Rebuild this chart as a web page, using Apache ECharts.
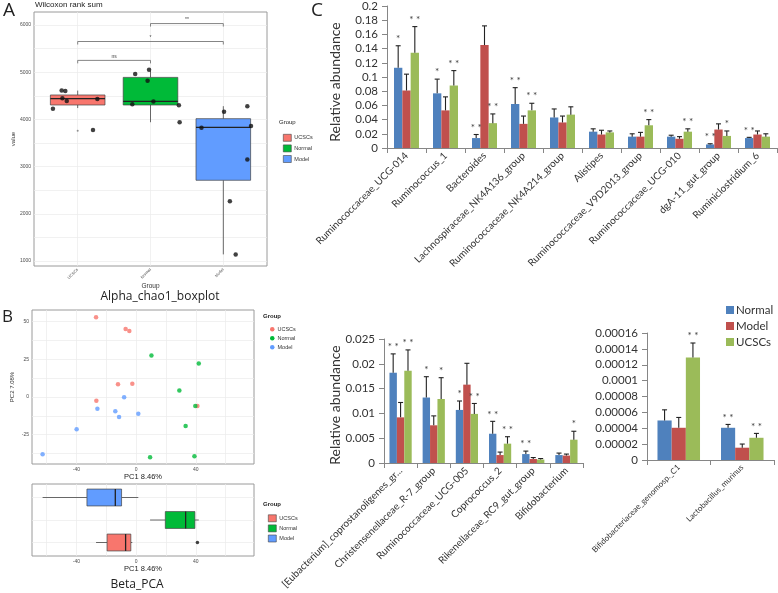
<!DOCTYPE html>
<html><head><meta charset="utf-8">
<script src="https://cdn.jsdelivr.net/npm/echarts@6/dist/echarts.min.js"></script>
<style>html,body{margin:0;padding:0;background:#fff}#c{width:778px;height:593px}</style>
</head><body><div id="c"></div>
<script>
// ---------------- DATA ----------------
const groups = ['UCSCs', 'Normal', 'Model'];
const ggColors = ['#F8766D', '#00BA38', '#619CFF'];

// Panel A: Alpha chao1 boxplot  [position, low, q1, median, q3, high]
const chaoBoxUCSCs = [1, 4240, 4305, 4440, 4517, 4610];
const chaoBoxNormal = [2, 3940, 4305, 4380, 4890, 5030];
const chaoBoxModel = [3, 1140, 2710, 3830, 4015, 4280];
const chaoPtsUCSCs = [[0.78, 4610], [0.83, 4600], [0.79, 4450], [0.85, 4390], [0.66, 4225], [1.27, 4430], [1.21, 3775]];
const chaoPtsNormal = [[1.79, 4960], [1.96, 4820], [1.98, 5050], [2.04, 4380], [1.75, 4320], [2.39, 4300], [2.40, 3940]];
const chaoPtsModel = [[3.01, 4160], [3.33, 4280], [2.70, 3825], [3.38, 3860], [3.33, 3150], [3.09, 2265], [3.17, 1140]];
const chaoOutliers = [[1, 3760]];
const chaoYTicks = [1000, 2000, 3000, 4000, 5000, 6000];
const chaoYGrid = [1000, 1500, 2000, 2500, 3000, 3500, 4000, 4500, 5000, 5500, 6000];
// significance brackets: [from, to, y]
const sigBrackets = [[1, 2, 5250], [1, 3, 5650], [2, 3, 6030]];
const sigBracketLabels = ['ns', '*', '**'];

// Panel B: PCA scatter [PC1, PC2]
const pcaUCSCs = [[-26.8, 52.9], [-7.0, 45.1], [-4.5, 43.8], [-12.1, 8.4], [-2.5, 8.8], [-26.6, -2.5], [41.1, -6.0]];
const pcaNormal = [[10.3, 27.6], [42.0, 22.3], [29.0, 4.4], [39.7, -6.0], [33.2, -19.2], [9.4, -40.0], [39.1, -39.3]];
const pcaModel = [[-8.0, -0.2], [-25.9, -7.7], [-13.9, -9.5], [-11.4, -13.3], [1.5, -11.1], [-39.8, -21.4], [-62.6, -38.0]];
const pcaXTicks = [-40, 0, 40];
const pcaXGrid = [-60, -40, -20, 0, 20, 40, 60];
const pcaYTicks = [-25, 0, 25, 50];
const pcaYGrid = [-37.5, -25, -12.5, 0, 12.5, 25, 37.5, 50];
// PC1 boxplot [position, low, q1, median, q3, high]
const pc1BoxUCSCs = [1, -26.8, -19.4, -7.0, -3.5, -2.5];
const pc1BoxNormal = [2, 9.4, 19.6, 33.2, 39.4, 42.0];
const pc1BoxModel = [3, -62.6, -32.9, -13.9, -9.7, 1.5];
const pc1Outliers = [[41.1, 1]];

// Panel C top
const topCats = ['Ruminococcaceae_UCG-014', 'Ruminococcus_1', 'Bacteroides', 'Lachnospiraceae_NK4A136_group',
  'Ruminococcaceae_NK4A214_group', 'Alistipes', 'Ruminococcaceae_V9D2013_group', 'Ruminococcaceae_UCG-010',
  'dgA-11_gut_group', 'Ruminiclostridium_6'];
const topNormal = [0.113, 0.077, 0.014, 0.062, 0.043, 0.023, 0.016, 0.016, 0.005, 0.014];
const topNormalErr = [0.031, 0.020, 0.005, 0.023, 0.012, 0.004, 0.004, 0.002, 0.001, 0.001];
const topModel = [0.081, 0.053, 0.145, 0.034, 0.036, 0.019, 0.016, 0.013, 0.026, 0.019];
const topModelErr = [0.023, 0.019, 0.027, 0.011, 0.009, 0.006, 0.006, 0.003, 0.008, 0.005];
const topUCSCs = [0.134, 0.088, 0.035, 0.053, 0.047, 0.022, 0.032, 0.023, 0.017, 0.016];
const topUCSCsErr = [0.037, 0.021, 0.013, 0.010, 0.011, 0.002, 0.008, 0.004, 0.007, 0.004];
const topNormalSig = ['*', '*', '**', '**', '', '', '', '', '**', '**'];
const topModelSig = ['', '', '', '', '', '', '', '', '', ''];
const topUCSCsSig = ['**', '**', '**', '**', '', '', '**', '**', '*', ''];

// Panel C bottom-left
const blCats = ['[Eubacterium]_coprostanoligenes_gr...', 'Christensenellaceae_R-7_group', 'Ruminococcaceae_UCG-005',
  'Coprococcus_2', 'Rikenellaceae_RC9_gut_group', 'Bifidobacterium'];
const blNormal = [0.0182, 0.0132, 0.0107, 0.0059, 0.0018, 0.0016];
const blNormalErr = [0.0038, 0.0042, 0.0018, 0.0025, 0.0006, 0.0004];
const blModel = [0.0092, 0.0076, 0.0158, 0.0016, 0.0008, 0.0015];
const blModelErr = [0.0030, 0.0019, 0.0043, 0.0006, 0.0003, 0.0003];
const blUCSCs = [0.0186, 0.0129, 0.0099, 0.0039, 0.0007, 0.0047];
const blUCSCsErr = [0.0042, 0.0043, 0.0021, 0.0014, 0.0002, 0.0017];
const blNormalSig = ['**', '*', '*', '**', '**', ''];
const blModelSig = ['', '', '', '', '', ''];
const blUCSCsSig = ['**', '*', '**', '**', '', '*'];

// Panel C bottom-right
const brCats = ['Bifidobacteriaceae_genomosp._C1', 'Lactobacillus_murinus'];
const brNormal = [0.0000498, 0.0000406];
const brNormalErr = [0.0000134, 0.0000042];
const brModel = [0.0000406, 0.0000155];
const brModelErr = [0.0000130, 0.0000046];
const brUCSCs = [0.000129, 0.000028];
const brUCSCsErr = [0.0000184, 0.0000055];
const brNormalSig = ['', '**'];
const brModelSig = ['', ''];
const brUCSCsSig = ['**', '**'];

// ---------------- STYLE ----------------
const xlColors = ['#4F81BD', '#C0504D', '#9BBB59'];
const xlNames = ['Normal', 'Model', 'UCSCs'];
const GG = 'Liberation Sans';
const XL = 'Lato';
const gridCol = '#EBEBEB';
const gg = {color: '#4D4D4D', fontFamily: GG};

function boxItem(horizontal) {
  return function (params, api) {
    const pos = api.value(0);
    const P = v => horizontal ? api.coord([v, pos]) : api.coord([pos, v]);
    const half = horizontal ? api.size([0, 0.375])[1] : api.size([0.375, 0])[0];
    const a = P(api.value(1)), q1 = P(api.value(2)), m = P(api.value(3)), q3 = P(api.value(4)), b = P(api.value(5));
    const stroke = '#444';
    const ch = [
      {type: 'line', shape: {x1: a[0], y1: a[1], x2: q1[0], y2: q1[1]}, style: {stroke, lineWidth: 0.8}},
      {type: 'line', shape: {x1: q3[0], y1: q3[1], x2: b[0], y2: b[1]}, style: {stroke, lineWidth: 0.8}}
    ];
    const rect = horizontal
      ? {x: q1[0], y: q1[1] - half, width: q3[0] - q1[0], height: 2 * half}
      : {x: q3[0] - half, y: q3[1], width: 2 * half, height: q1[1] - q3[1]};
    ch.push({type: 'rect', shape: rect, style: {fill: api.visual('color'), stroke, lineWidth: 0.7}});
    const ml = horizontal
      ? {x1: m[0], y1: m[1] - half, x2: m[0], y2: m[1] + half}
      : {x1: m[0] - half, y1: m[1], x2: m[0] + half, y2: m[1]};
    ch.push({type: 'line', shape: ml, style: {stroke: '#222', lineWidth: 1.3}});
    return {type: 'group', children: ch};
  };
}

function bracketItem(params, api) {
  const x1 = api.value(0), x2 = api.value(1), y = api.value(2);
  const p1 = api.coord([x1, y]), p2 = api.coord([x2, y]);
  const leg = 3;
  return {type: 'group', children: [
    {type: 'polyline', shape: {points: [[p1[0], p1[1] + leg], p1, p2, [p2[0], p2[1] + leg]]},
      style: {stroke: '#666', lineWidth: 0.8, fill: null}},
    {type: 'text', x: (p1[0] + p2[0]) / 2, y: p1[1] - 1.5,
      style: {text: sigBracketLabels[params.dataIndex], fontSize: 5, fill: '#444', fontFamily: GG,
        textAlign: 'center', textVerticalAlign: 'bottom'}}
  ]};
}

function errItem(gi, gapFrac, sigs) {
  return function (params, api) {
    const ci = api.value(0), v = api.value(1), e = api.value(2);
    const band = api.size([1, 0])[0];
    const bw = band * (1 - gapFrac) / 3;
    const base = api.coord([ci, v]);
    const x = base[0] + (gi - 1) * bw;
    const top = api.coord([ci, v + e])[1];
    const ch = [
      {type: 'line', shape: {x1: x, y1: base[1], x2: x, y2: top}, style: {stroke: '#222', lineWidth: 1.1}},
      {type: 'line', shape: {x1: x - 2.5, y1: top, x2: x + 2.5, y2: top}, style: {stroke: '#222', lineWidth: 1.1}}
    ];
    const s = sigs[params.dataIndex];
    if (s) ch.push({type: 'text', x: x, y: top - 2,
      style: {text: s.split('').join(' '), fontSize: 10, fill: '#404040', fontFamily: XL,
        textAlign: 'center', textVerticalAlign: 'bottom'}});
    return {type: 'group', children: ch};
  };
}

const errData = (vals, errs) => vals.map((v, i) => [i, v, errs[i]]);

// ---------------- OPTION ----------------
const grids = [
  {left: 34, top: 12, width: 233, height: 254, show: true, borderColor: '#9a9a9a', borderWidth: 1},
  {left: 32, top: 310, width: 222, height: 154, show: true, borderColor: '#9a9a9a', borderWidth: 1},
  {left: 32, top: 484, width: 222, height: 72, show: true, borderColor: '#9a9a9a', borderWidth: 1},
  {left: 387, top: 6, width: 390, height: 142},
  {left: 384, top: 339, width: 199, height: 124},
  {left: 647, top: 333, width: 127, height: 127}
];

function ggAxis(gi, min, max, ticks, gridVals, extra) {
  return Object.assign({
    type: 'value', gridIndex: gi, min, max,
    axisLine: {show: false},
    axisTick: {show: false, customValues: gridVals},
    axisLabel: Object.assign({customValues: ticks, fontSize: 5, margin: 3, formatter: v => String(v)}, gg),
    splitLine: {show: true, lineStyle: {color: gridCol, width: 0.7}}
  }, extra || {});
}

function xlCat(gi, cats, fs) {
  return {
    type: 'category', gridIndex: gi, data: cats,
    axisLine: {lineStyle: {color: '#868686', width: 1}},
    axisTick: {show: true, alignWithLabel: false, interval: 0, length: 5, lineStyle: {color: '#868686'}},
    axisLabel: {interval: 0, rotate: 45, fontSize: fs, color: '#333', fontFamily: XL, margin: 6},
    splitLine: {show: false}
  };
}
function xlVal(gi, max, interval) {
  return {
    type: 'value', gridIndex: gi, min: 0, max, interval,
    axisLine: {show: true, lineStyle: {color: '#868686', width: 1}},
    axisTick: {show: true, length: 5, lineStyle: {color: '#868686'}},
    axisLabel: {fontSize: 11.5, color: '#333', fontFamily: XL, margin: 9, formatter: v => String(+v.toFixed(6))},
    splitLine: {show: false}
  };
}

const series = [];
// Panel A
[chaoBoxUCSCs, chaoBoxNormal, chaoBoxModel].forEach((b, i) => series.push({
  type: 'custom', name: groups[i], xAxisIndex: 0, yAxisIndex: 0, renderItem: boxItem(false),
  itemStyle: {color: ggColors[i]}, data: [b], encode: {x: 0, y: [1, 2, 3, 4, 5]}, clip: false, z: 2
}));
series.push({type: 'scatter', xAxisIndex: 0, yAxisIndex: 0, data: chaoOutliers, symbolSize: 2,
  itemStyle: {color: '#777'}, z: 3, silent: true});
[chaoPtsUCSCs, chaoPtsNormal, chaoPtsModel].forEach(p => series.push({
  type: 'scatter', xAxisIndex: 0, yAxisIndex: 0, data: p, symbolSize: 4.5,
  itemStyle: {color: '#111'}, z: 4, silent: true
}));
series.push({type: 'custom', xAxisIndex: 0, yAxisIndex: 0, renderItem: bracketItem, data: sigBrackets,
  encode: {x: [0, 1], y: 2}, clip: false, z: 5, silent: true});

// Panel B scatter
[pcaUCSCs, pcaNormal, pcaModel].forEach((p, i) => series.push({
  type: 'scatter', name: groups[i], xAxisIndex: 1, yAxisIndex: 1, data: p, symbolSize: 4.5,
  itemStyle: {color: ggColors[i]}, z: 4, silent: true
}));
// Panel B boxplot (horizontal): UCSCs bottom (1), Normal (2), Model top (3)
[pc1BoxUCSCs, pc1BoxNormal, pc1BoxModel].forEach((b, i) => series.push({
  type: 'custom', name: groups[i], xAxisIndex: 2, yAxisIndex: 2, renderItem: boxItem(true),
  itemStyle: {color: ggColors[i]}, data: [b], encode: {y: 0, x: [1, 2, 3, 4, 5]}, clip: false, z: 2
}));
series.push({type: 'scatter', xAxisIndex: 2, yAxisIndex: 2, data: pc1Outliers, symbolSize: 3.5,
  itemStyle: {color: '#111'}, z: 4, silent: true});

// Panel C
function addBars(xi, vals, errs, sigs, gap) {
  vals.forEach((v, gi) => series.push({
    type: 'bar', name: 'C-' + xlNames[gi], xAxisIndex: xi, yAxisIndex: xi, data: v,
    barGap: 0, barCategoryGap: (gap * 100) + '%', itemStyle: {color: xlColors[gi]}, z: 2, silent: true
  }));
  vals.forEach((v, gi) => series.push({
    type: 'custom', xAxisIndex: xi, yAxisIndex: xi, renderItem: errItem(gi, gap, sigs[gi]),
    data: errData(v, errs[gi]), encode: {x: 0, y: 1}, clip: false, z: 3, silent: true
  }));
}
addBars(3, [topNormal, topModel, topUCSCs], [topNormalErr, topModelErr, topUCSCsErr], [topNormalSig, topModelSig, topUCSCsSig], 0.36);
addBars(4, [blNormal, blModel, blUCSCs], [blNormalErr, blModelErr, blUCSCsErr], [blNormalSig, blModelSig, blUCSCsSig], 0.33);
addBars(5, [brNormal, brModel, brUCSCs], [brNormalErr, brModelErr, brUCSCsErr], [brNormalSig, brModelSig, brUCSCsSig], 0.33);

const ggLegendText = {fontSize: 5.5, color: '#333', fontFamily: GG, lineHeight: 7, padding: [0, 0, 0, -2]};

const option = {
  animation: false,
  backgroundColor: '#fff',
  grid: grids,
  xAxis: [
    ggAxis(0, 0.4, 3.6, [1, 2, 3], [1, 2, 3], {
      axisLabel: Object.assign({customValues: [1, 2, 3], fontSize: 4, rotate: 45, margin: 3,
        formatter: v => groups[Math.round(v) - 1]}, gg),
      name: 'Group', nameLocation: 'middle', nameGap: 16,
      nameTextStyle: {fontSize: 6.5, color: '#333', fontFamily: GG}
    }),
    ggAxis(1, -69.7, 79, pcaXTicks, pcaXGrid, {
      name: 'PC1 8.46%', nameLocation: 'middle', nameGap: 9,
      nameTextStyle: {fontSize: 7.5, color: '#222', fontFamily: GG}
    }),
    ggAxis(2, -69.7, 79, pcaXTicks, pcaXGrid, {
      name: 'PC1 8.46%', nameLocation: 'middle', nameGap: 9,
      nameTextStyle: {fontSize: 7.5, color: '#222', fontFamily: GG}
    }),
    xlCat(3, topCats, 10),
    xlCat(4, blCats, 10),
    xlCat(5, brCats, 8)
  ],
  yAxis: [
    ggAxis(0, 894, 6275, chaoYTicks, chaoYGrid, {
      name: 'value', nameLocation: 'middle', nameGap: 18,
      nameTextStyle: {fontSize: 6, color: '#333', fontFamily: GG}
    }),
    ggAxis(1, -44.4, 57.7, pcaYTicks, pcaYGrid, {
      name: 'PC2 7.08%', nameLocation: 'middle', nameGap: 17,
      nameTextStyle: {fontSize: 6, color: '#333', fontFamily: GG}
    }),
    ggAxis(2, 0.4, 3.6, [], [1, 2, 3], {axisLabel: {show: false}}),
    xlVal(3, 0.2, 0.02),
    xlVal(4, 0.025, 0.005),
    xlVal(5, 0.00016, 0.00002)
  ],
  legend: [
    {orient: 'vertical', left: 721, top: 299, itemWidth: 8, itemHeight: 8, itemGap: 4, icon: 'rect',
      data: xlNames.map(n => 'C-' + n), formatter: n => n.slice(2),
      textStyle: {fontSize: 11.5, color: '#333', fontFamily: XL, padding: [0, 0, 0, -3]}},
    {orient: 'vertical', left: 278, top: 129, itemWidth: 8, itemHeight: 7, itemGap: 3, icon: 'rect',
      data: groups, textStyle: ggLegendText, itemStyle: {borderColor: '#444', borderWidth: 0.6}},
    {orient: 'vertical', left: 265, top: 321, itemWidth: 4.5, itemHeight: 4.5, itemGap: 2.5, icon: 'circle',
      data: groups, textStyle: Object.assign({}, ggLegendText, {lineHeight: 6.5})},
    {orient: 'vertical', left: 263, top: 509.5, itemWidth: 8, itemHeight: 7, itemGap: 2.5, icon: 'rect',
      data: groups, textStyle: ggLegendText, itemStyle: {borderColor: '#444', borderWidth: 0.6}}
  ],
  graphic: [
    {type: 'text', left: 3, top: 1, style: {text: 'A', fontSize: 19, fill: '#222', fontFamily: 'Open Sans'}},
    {type: 'text', left: 2, top: 309, style: {text: 'B', fontSize: 17, fill: '#222', fontFamily: 'Open Sans'}},
    {type: 'text', left: 311, top: 1, style: {text: 'C', fontSize: 19, fill: '#222', fontFamily: 'Open Sans'}},
    {type: 'text', left: 35, top: 1, style: {text: 'Wilcoxon rank sum', fontSize: 8, fill: '#222', fontFamily: GG}},
    {type: 'text', x: 160, y: 297, style: {text: 'Alpha_chao1_boxplot', fontSize: 12, fill: '#222', fontFamily: 'Open Sans',
      textAlign: 'center', textVerticalAlign: 'middle'}},
    {type: 'text', x: 137, y: 585, style: {text: 'Beta_PCA', fontSize: 12, fill: '#222', fontFamily: 'Open Sans',
      textAlign: 'center', textVerticalAlign: 'middle'}},
    {type: 'text', left: 279, top: 119, style: {text: 'Group', fontSize: 6, fill: '#222', fontFamily: GG}},
    {type: 'text', left: 263, top: 313, style: {text: 'Group', fontSize: 6, fill: '#222', fontFamily: GG, fontWeight: 'bold'}},
    {type: 'text', left: 263, top: 501, style: {text: 'Group', fontSize: 6, fill: '#222', fontFamily: GG, fontWeight: 'bold'}},
    {type: 'text', x: 335, y: 82, rotation: Math.PI / 2, style: {text: 'Relative abundance', fontSize: 14, fill: '#333',
      fontFamily: XL, textAlign: 'center', textVerticalAlign: 'middle'}},
    {type: 'text', x: 335, y: 405, rotation: Math.PI / 2, style: {text: 'Relative abundance', fontSize: 14, fill: '#333',
      fontFamily: XL, textAlign: 'center', textVerticalAlign: 'middle'}}
  ],
  series
};

const chart = echarts.init(document.getElementById('c'), null, {renderer: 'canvas'});
chart.setOption(option);
</script></body></html>
